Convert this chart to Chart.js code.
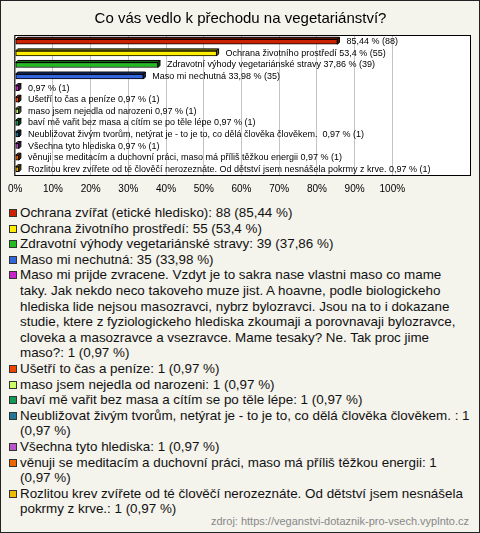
<!DOCTYPE html>
<html><head><meta charset="utf-8">
<script src="https://cdn.jsdelivr.net/npm/chart.js@4"></script>
<style>
html,body{margin:0;padding:0;background:#fff;}
#wrap{position:relative;width:480px;height:533px;box-sizing:border-box;border:1px solid #222;background:#F4F3EC;overflow:hidden;font-family:"Liberation Sans",Arial,sans-serif;}
#cv{position:absolute;left:-1px;top:-1px;}
#legend{position:absolute;left:0;top:204px;width:470px;}
.item{position:relative;padding-left:19px;font-size:13.4px;line-height:15.6px;color:#111;}
.sw{position:absolute;left:8px;top:4px;width:6px;height:6px;border:1px solid #333;}
#src{position:absolute;right:10px;bottom:4px;font-size:11px;line-height:13px;color:#888;}
</style>
</head>
<body>
<div id="wrap">
<canvas id="cv" width="480" height="204"></canvas>
<div id="legend"></div>
<div id="src">zdroj: https://veganstvi-dotaznik-pro-vsech.vyplnto.cz</div>
</div>
<script>
const chartTitle = 'Co vás vedlo k přechodu na vegetariánství?';
const categories = [
  'Ochrana zvířat (etické hledisko)',
  'Ochrana životního prostředí',
  'Zdravotní výhody vegetariánské stravy',
  'Maso mi nechutná',
  'Maso mi prijde zvracene. Vzdyt je to sakra nase vlastni maso co mame taky. Jak nekdo neco takoveho muze jist. A hoavne, podle biologickeho hlediska lide nejsou masozravci, nybrz bylozravci. Jsou na to i dokazane studie, ktere z fyziologickeho hlediska zkoumaji a porovnavaji bylozravce, cloveka a masozravce a vsezravce. Mame tesaky? Ne. Tak proc jime maso?',
  'Ušetří to čas a peníze',
  'maso jsem nejedla od narozeni',
  'baví mě vařit bez masa a cítím se po těle lépe',
  'Neubližovat živým tvorům, netýrat je - to je to, co dělá člověka člověkem. ',
  'Všechna tyto hlediska',
  'věnuji se meditacím a duchovní práci, maso má příliš těžkou energii',
  'Rozlitou krev zvířete od té člověčí nerozeznáte. Od dětství jsem nesnášela pokrmy z krve.'
];
const percents = [85.44, 53.4, 37.86, 33.98, 0.97, 0.97, 0.97, 0.97, 0.97, 0.97, 0.97, 0.97];
const counts = [88, 55, 39, 35, 1, 1, 1, 1, 1, 1, 1, 1];
const barColors = ['#CC2200', '#FFEE00', '#22BB22', '#3366DD', '#CC22CC', '#EE4400', '#CCFF66', '#119955', '#227799', '#BB55CC', '#EE6600', '#EEBB00'];
const xTickValues = [0, 10, 20, 30, 40, 50, 60, 70, 80, 90, 100];
const sourceText = 'zdroj: https://veganstvi-dotaznik-pro-vsech.vyplnto.cz';

const FONT = '"Liberation Sans", Arial, sans-serif';
const fmt = v => String(v).replace('.', ',');

function shade(hex, f) {
  const n = parseInt(hex.slice(1), 16);
  const r = Math.round(((n >> 16) & 255) * f), g = Math.round(((n >> 8) & 255) * f), b = Math.round((n & 255) * f);
  return `rgb(${r},${g},${b})`;
}

const D = 2;
const plotBox = {
  id: 'plotBox',
  beforeDraw(chart) {
    const a = chart.chartArea, c = chart.ctx;
    c.save(); c.fillStyle = '#fff';
    c.fillRect(a.left - 1, a.top - 1, a.right - a.left + 2, a.bottom - a.top + 2);
    c.restore();
  },
  afterDraw(chart) {
    const a = chart.chartArea, c = chart.ctx;
    c.save(); c.strokeStyle = '#000'; c.lineWidth = 1;
    c.strokeRect(a.left - 0.5, a.top - 0.5, a.right - a.left + 1, a.bottom - a.top + 1);
    c.restore();
  }
};
const bar3d = {
  id: 'bar3d',
  afterDatasetsDraw(chart) {
    const c = chart.ctx, meta = chart.getDatasetMeta(0);
    c.save(); c.lineWidth = 1;
    meta.data.forEach((el, i) => {
      const p = el.getProps(['x', 'y', 'base', 'height'], true);
      const top = p.y - p.height / 2, bot = p.y + p.height / 2;
      c.fillStyle = shade(barColors[i], 0.6);
      c.strokeStyle = '#000';
      c.beginPath();
      c.moveTo(p.base, top); c.lineTo(p.base + D, top - D); c.lineTo(p.x + D, top - D); c.lineTo(p.x, top); c.closePath();
      c.fill(); c.stroke();
      c.fillStyle = shade(barColors[i], 0.45);
      c.beginPath();
      c.moveTo(p.x, top); c.lineTo(p.x + D, top - D); c.lineTo(p.x + D, bot - D); c.lineTo(p.x, bot); c.closePath();
      c.fill(); c.stroke();
    });
    c.restore();
  }
};
const barLabels = {
  id: 'barLabels',
  afterDraw(chart) {
    const c = chart.ctx, meta = chart.getDatasetMeta(0), a = chart.chartArea;
    c.save();
    c.font = '9px ' + FONT; c.fillStyle = '#000'; c.textBaseline = 'middle'; c.textAlign = 'left';
    meta.data.forEach((el, i) => {
      const p = el.getProps(['x', 'y'], true);
      const x0 = p.x + D + 7;
      const val = fmt(percents[i]) + ' % (' + counts[i] + ')';
      const full = categories[i] + ' ' + val;
      const txt = (x0 + c.measureText(full).width <= a.right - 4) ? full : val;
      c.fillText(txt, x0, p.y);
    });
    c.restore();
  }
};

new Chart(document.getElementById('cv'), {
  type: 'bar',
  data: {
    labels: categories,
    datasets: [{
      data: percents,
      backgroundColor: barColors,
      borderColor: '#000',
      borderWidth: 1,
      borderSkipped: false,
      barThickness: 5
    }]
  },
  options: {
    indexAxis: 'y',
    responsive: false,
    animation: false,
    devicePixelRatio: 1,
    layout: { padding: { left: 11, right: 10, top: 0, bottom: 1 } },
    plugins: {
      legend: { display: false },
      tooltip: { enabled: false },
      title: {
        display: true, text: chartTitle, color: '#000',
        font: { family: FONT, size: 15, weight: 'normal' },
        padding: { top: 10, bottom: 8 }
      }
    },
    scales: {
      x: {
        min: 0, max: 120.6,
        afterBuildTicks: s => { s.ticks = xTickValues.map(v => ({ value: v })); },
        ticks: { callback: v => v + '%', color: '#000', font: { family: FONT, size: 10 }, padding: 8, maxRotation: 0, autoSkip: false },
        grid: { color: '#C4C4C4', drawTicks: false },
        border: { display: false }
      },
      y: { display: false }
    }
  },
  plugins: [plotBox, bar3d, barLabels]
});

const leg = document.getElementById('legend');
categories.forEach((name, i) => {
  const d = document.createElement('div');
  d.className = 'item';
  const sw = document.createElement('span');
  sw.className = 'sw'; sw.style.background = barColors[i];
  d.appendChild(sw);
  d.appendChild(document.createTextNode(name + ': ' + counts[i] + ' (' + fmt(percents[i]) + ' %)'));
  leg.appendChild(d);
});
document.getElementById('src').textContent = sourceText;
</script>
</body></html>
